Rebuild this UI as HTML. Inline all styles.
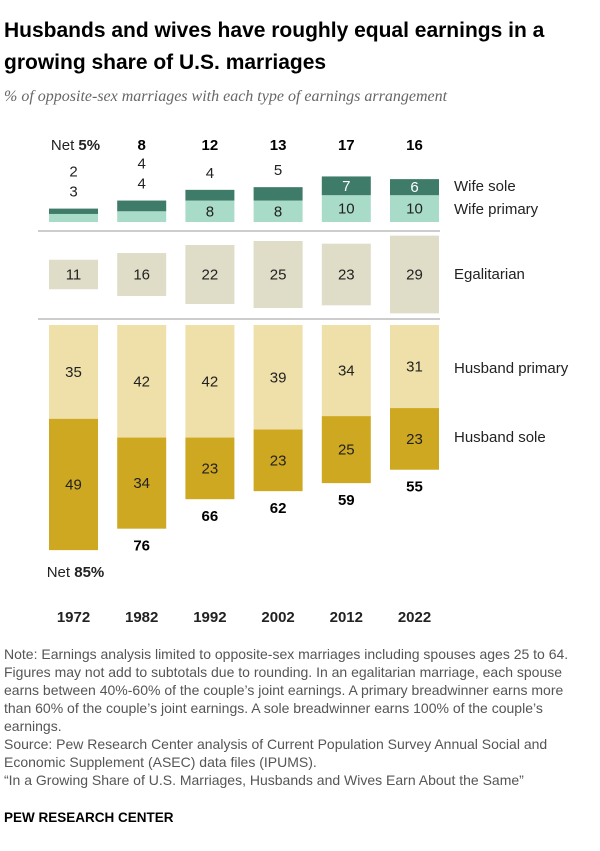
<!DOCTYPE html>
<html><head><meta charset="utf-8"><style>
body{margin:0;background:#fff;font-family:"Liberation Sans",sans-serif;}
#wrap{position:relative;width:600px;height:851px;overflow:hidden;}
h1{position:absolute;left:4px;top:15px;margin:0;font-size:21px;line-height:32px;font-weight:bold;color:#000;width:595px;}
.sub{position:absolute;left:4px;top:88px;font-family:"Liberation Serif",serif;font-style:italic;font-size:16px;color:#666;}
.note{position:absolute;left:4px;top:645px;width:585px;font-size:14px;line-height:18px;color:#555;}
.pew{position:absolute;left:4px;top:810px;font-size:13.5px;font-weight:bold;color:#000;}
svg text{font-family:"Liberation Sans",sans-serif;}
</style></head><body><div id="wrap">
<h1>Husbands and wives have roughly equal earnings in a growing share of U.S. marriages</h1>
<div class="sub">% of opposite-sex marriages with each type of earnings arrangement</div>
<svg id="chart" width="600" height="640" style="position:absolute;left:0;top:0"></svg>
<div class="note">Note: Earnings analysis limited to opposite-sex marriages including spouses ages 25 to 64. Figures may not add to subtotals due to rounding. In an egalitarian marriage, each spouse earns between 40%-60% of the couple’s joint earnings. A primary breadwinner earns more than 60% of the couple’s joint earnings. A sole breadwinner earns 100% of the couple’s earnings.<br>Source: Pew Research Center analysis of Current Population Survey Annual Social and Economic Supplement (ASEC) data files (IPUMS).<br>“In a Growing Share of U.S. Marriages, Husbands and Wives Earn About the Same”</div>
<div class="pew">PEW RESEARCH CENTER</div>
</div>
<script>
const years=["1972","1982","1992","2002","2012","2022"];
const wifeSole=[2,4,4,5,7,6];
const wifePrimary=[3,4,8,8,10,10];
const wifeNet=[5,8,12,13,17,16];
const egalitarian=[11,16,22,25,23,29];
const husbandPrimary=[35,42,42,39,34,31];
const husbandSole=[49,34,23,23,25,23];
const husbandNet=[85,76,66,62,59,55];

const svg=document.getElementById('chart');
const NS='http://www.w3.org/2000/svg';
const K=2.68, X0=73.5, DX=68.2, BW=49;
const wifeBase=222, egalMid=274.5, husTop=325;
const xc=i=>X0+i*DX;
const h=v=>v*K;
function el(t,a,txt){const e=document.createElementNS(NS,t);for(const k in a)e.setAttribute(k,a[k]);if(txt!=null)e.textContent=txt;svg.appendChild(e);return e;}
function rect(x,y,w,hh,fill,name){const r=el('rect',{x,y,width:w,height:hh,fill});

return r;}
function txt(x,y,s,name,opts){const t=el('text',Object.assign({x,y,'text-anchor':'middle','font-size':15,fill:'#222'},opts||{}),s);

return t;}
[231,319].forEach((y)=>{const l=el('line',{x1:38,x2:440,y1:y,y2:y,stroke:'#bbb','stroke-width':1.5});

});
years.forEach((yr,i)=>{
  const cx=xc(i), x=cx-BW/2;
  const wpTop=wifeBase-h(wifePrimary[i]);
  const wsTop=wpTop-h(wifeSole[i]);
  rect(x,wpTop,BW,h(wifePrimary[i]),'#a9dcc8','bar-wife-primary-'+yr);
  rect(x,wsTop,BW,h(wifeSole[i]),'#3f7b69','bar-wife-sole-'+yr);
  let above=wsTop-12;
  if(wifePrimary[i]>=6) txt(cx,wifeBase-h(wifePrimary[i])/2+5,wifePrimary[i],'label-wife-primary-'+yr);
  if(wifeSole[i]>=6) txt(cx,wsTop+h(wifeSole[i])/2+5,wifeSole[i],'label-wife-sole-'+yr,{fill:'#fff'});
  if(wifePrimary[i]<6){txt(cx,above,wifePrimary[i],'label-wife-primary-'+yr);above-=20;}
  if(wifeSole[i]<6){txt(cx,above,wifeSole[i],'label-wife-sole-'+yr);}
  if(i===0){const t=txt(cx+2,150,'','label-wife-net-'+yr);t.innerHTML='Net <tspan font-weight="bold">'+wifeNet[i]+'%</tspan>';}
  else txt(cx,150,wifeNet[i],'label-wife-net-'+yr,{'font-weight':'bold',fill:'#000'});
  const eh=h(egalitarian[i]);
  rect(x,egalMid-eh/2,BW,eh,'#dfdcc7','bar-egalitarian-'+yr);
  txt(cx,egalMid+5,egalitarian[i],'label-egalitarian-'+yr);
  const hp=h(husbandPrimary[i]), hs=h(husbandSole[i]);
  rect(x,husTop,BW,hp,'#efe0a9','bar-husband-primary-'+yr);
  rect(x,husTop+hp,BW,hs,'#cfa822','bar-husband-sole-'+yr);
  txt(cx,husTop+hp/2+5,husbandPrimary[i],'label-husband-primary-'+yr);
  txt(cx,husTop+hp+hs/2+5,husbandSole[i],'label-husband-sole-'+yr);
  const bot=husTop+hp+hs;
  if(i===0){const t=txt(cx+2,bot+27,'','label-husband-net-'+yr);t.innerHTML='Net <tspan font-weight="bold">'+husbandNet[i]+'%</tspan>';}
  else txt(cx,bot+22,husbandNet[i],'label-husband-net-'+yr,{'font-weight':'bold',fill:'#000'});
  txt(cx,622,yr,'x-axis-label-'+yr,{'font-weight':'bold',fill:'#222'});
});
const legend=[["Wife sole",191],["Wife primary",214],["Egalitarian",279],["Husband primary",373],["Husband sole",442]];
legend.forEach(([s,y])=>{txt(454,y,s,'legend-'+s.toLowerCase().replace(' ','-'),{'text-anchor':'start'});});
</script></body></html>
